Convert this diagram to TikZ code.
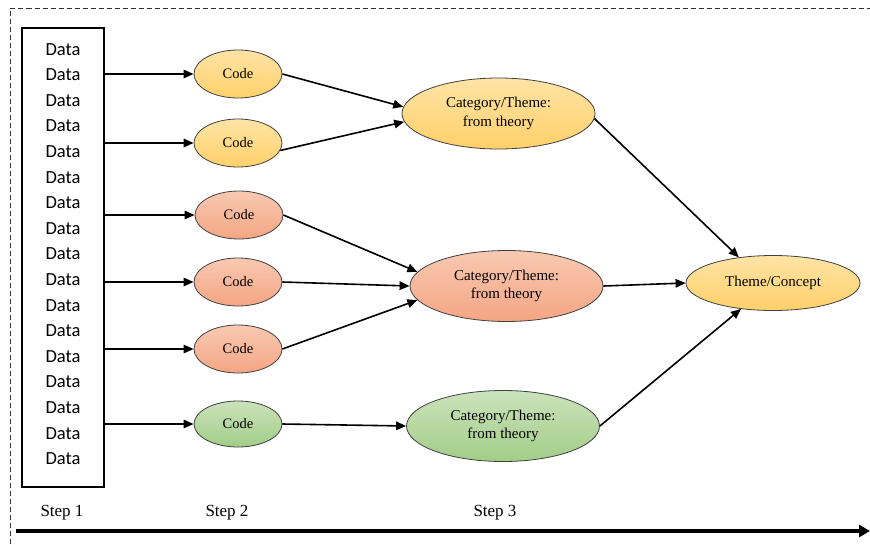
\documentclass[tikz,border=0pt]{standalone}
\usepackage{fontspec}
\setmainfont{Liberation Serif}
\newfontfamily\datafont{Carlito}
\usetikzlibrary{shapes.geometric,arrows.meta}
\definecolor{yeltop}{HTML}{FFE4A6}
\definecolor{yelbot}{HTML}{FFD06A}
\definecolor{redtop}{HTML}{F9C9B2}
\definecolor{redbot}{HTML}{F4A584}
\definecolor{grntop}{HTML}{CBE2BB}
\definecolor{grnbot}{HTML}{A2CD88}
\begin{document}
\begin{tikzpicture}[x=1pt,y=-1pt,
  oval/.style={ellipse,draw=black!75,line width=0.8pt,inner sep=0pt,align=center,
    font=\fontsize{15}{18.5}\selectfont},
  yel/.style={top color=yeltop,bottom color=yelbot},
  red/.style={top color=redtop,bottom color=redbot},
  grn/.style={top color=grntop,bottom color=grnbot},
  codenode/.style={oval,minimum width=88pt,minimum height=48pt,font=\fontsize{14.5}{16}\selectfont},
  catnode/.style={oval,minimum width=193pt,minimum height=71pt},
  link/.style={-{Triangle[length=10pt,width=8.5pt]},line width=1.6pt},
  steplabel/.style={font=\fontsize{17}{18}\selectfont},
]
\useasboundingbox (0,0) rectangle (870,544);

% dashed frame (left and top edges)
\coordinate (frameB) at (10,544);
\coordinate (frameC) at (10,8.5);
\coordinate (frameR) at (870,8.5);
\draw[black!80,line width=0.8pt,dash pattern=on 5pt off 3pt] (frameB) -- (frameC) -- (frameR);

% data column
\node[draw,line width=1.4pt,minimum width=82pt,minimum height=459pt,inner sep=0pt] (box) at (63,257.5) {};
\node[align=center,font=\datafont\fontsize{18.5}{25.6}\selectfont] (data) at (63,254)
  {Data\\Data\\Data\\Data\\Data\\Data\\Data\\Data\\Data\\Data\\Data\\Data\\Data\\Data\\Data\\Data\\Data};

% codes
\node[codenode,yel] (c1) at (238,74) {Code};
\node[codenode,yel] (c2) at (238,143) {Code};
\node[codenode,red] (c3) at (239,215) {Code};
\node[codenode,red] (c4) at (238,282) {Code};
\node[codenode,red] (c5) at (238,349) {Code};
\node[codenode,grn,minimum height=46pt] (c6) at (238,424) {Code};

% categories
\node[catnode,yel] (k1) at (498.5,113.5) {Category/Theme:\\from theory};
\node[catnode,red] (k2) at (506.5,286) {Category/Theme:\\from theory};
\node[catnode,grn] (k3) at (503,426) {Category/Theme:\\from theory};

% theme
\node[oval,yel,minimum width=174pt,minimum height=55pt] (th) at (773,283) {Theme/Concept};

% data to codes
\draw[link] (box.east |- c1.west) -- (c1.west);
\draw[link] (box.east |- c2.west) -- (c2.west);
\draw[link] (box.east |- c3.west) -- (c3.west);
\draw[link] (box.east |- c4.west) -- (c4.west);
\draw[link] (box.east |- c5.west) -- (c5.west);
\draw[link] (box.east |- c6.west) -- (c6.west);

% codes to categories
\draw[link] (c1.east) -- (k1.176);
\draw[link] (c2.-10) -- (k1.185);
\draw[link] (c3.east) -- (k2.171);
\draw[link] (c4.east) -- (k2.west);
\draw[link] (c5.east) -- (k2.189);
\draw[link] (c6.east) -- (k3.west);

% categories to theme
\draw[link] (k1.-3) -- (th.143);
\draw[link] (k2.east) -- (th.west);
\draw[link] (k3.east) -- (th.219);

% steps and time axis
\node[steplabel] (s1) at (62,513) {Step 1};
\node[steplabel] (s2) at (227,513) {Step 2};
\node[steplabel] (s3) at (495,513) {Step 3};
\coordinate (axisL) at (16,531);
\coordinate (axisR) at (870,531);
\draw[line width=4pt,-{Triangle[length=11pt,width=12pt]}] (axisL) -- (axisR);
\end{tikzpicture}
\end{document}
